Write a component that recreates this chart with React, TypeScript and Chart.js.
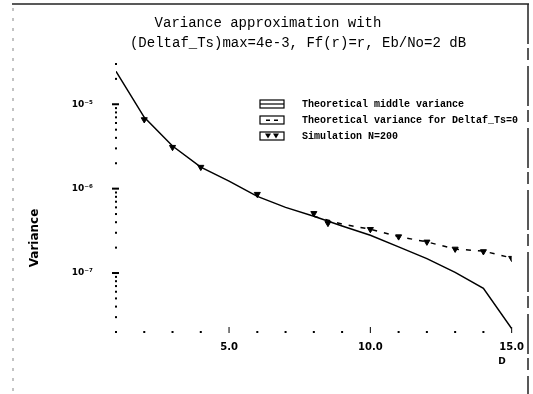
import React, { useEffect, useRef } from 'react';
import { Chart, registerables } from 'chart.js';
Chart.register(...registerables);

// ---- text ----
const titleLines = ['Variance approximation with', '(Deltaf_Ts)max=4e-3, Ff(r)=r, Eb/No=2 dB'];
const yAxisTitle = 'Variance';
const xAxisTitle = 'D';
const legendLabels = [
  'Theoretical middle variance',
  'Theoretical variance for Deltaf_Ts=0',
  'Simulation N=200',
];

// ---- axes ----
const xMin = 1;
const xMax = 15;
const xTickValues = [5, 10, 15];
const xTickLabels = ['5.0', '10.0', '15.0'];
const yMin = 2e-8;
const yMax = 3e-5;
const yTickValues = [1e-7, 1e-6, 1e-5];
const yTickLabels = ['10⁻⁷', '10⁻⁶', '10⁻⁵'];

// ---- data ----
const middleX = [1, 2, 3, 4, 5, 6, 7, 8, 9, 10, 11, 12, 13, 14, 15];
const middleY = [2.46e-5, 7.0e-6, 3.2e-6, 1.8e-6, 1.23e-6, 8.1e-7, 6.0e-7, 4.7e-7, 3.6e-7, 2.8e-7, 2.04e-7, 1.48e-7, 1.02e-7, 6.6e-8, 2.2e-8];
const zeroX = [8, 9, 10, 11, 12, 13, 14, 15];
const zeroY = [4.7e-7, 3.8e-7, 3.3e-7, 2.7e-7, 2.34e-7, 1.92e-7, 1.82e-7, 1.51e-7];
const simX = [2, 3, 4, 6, 8, 8.5, 10, 11, 12, 13, 14, 15];
const simY = [6.6e-6, 3.1e-6, 1.8e-6, 8.6e-7, 5.1e-7, 3.9e-7, 3.3e-7, 2.7e-7, 2.34e-7, 1.93e-7, 1.8e-7, 1.5e-7];

const pts = (xs: number[], ys: number[]) => xs.map((x, i) => ({ x, y: ys[i] }));

const decor = {
  id: 'decor',
  afterDraw(chart: any) {
    const { ctx, chartArea } = chart;
    const xs = chart.scales.x;
    const ys = chart.scales.y;
    ctx.save();
    ctx.fillStyle = '#000';
    ctx.strokeStyle = '#000';

    // frame (scanned page border)
    ctx.lineWidth = 1.5;
    ctx.strokeStyle = '#222';
    ctx.beginPath();
    ctx.moveTo(12, 4);
    ctx.lineTo(529, 4);
    ctx.stroke();
    ctx.setLineDash([40, 4, 12, 6]);
    ctx.beginPath();
    ctx.moveTo(528, 4);
    ctx.lineTo(528, 394);
    ctx.stroke();
    ctx.lineWidth = 1;
    ctx.strokeStyle = '#888';
    ctx.setLineDash([3, 7]);
    ctx.beginPath();
    ctx.moveTo(13, 8);
    ctx.lineTo(13, 394);
    ctx.stroke();
    ctx.setLineDash([]);
    ctx.strokeStyle = '#000';

    // title
    ctx.font = '14px "Liberation Mono", monospace';
    ctx.textAlign = 'center';
    ctx.textBaseline = 'middle';
    ctx.fillText(titleLines[0], 268, 23);
    ctx.fillText(titleLines[1], 298, 43);

    // y title
    ctx.save();
    ctx.translate(35, 238);
    ctx.rotate(-Math.PI / 2);
    ctx.font = 'bold 12px "DejaVu Sans", sans-serif';
    ctx.fillText(yAxisTitle, 0, 0);
    ctx.restore();

    // x title
    ctx.font = 'bold 9px "DejaVu Sans", sans-serif';
    ctx.fillText(xAxisTitle, 502, 362);

    // x tick marks
    const bottom = chartArea.bottom;
    for (let v = xMin; v <= xMax; v++) {
      const px = xs.getPixelForValue(v);
      if (v % 5 === 0) {
        ctx.lineWidth = 1;
        ctx.beginPath();
        ctx.moveTo(px, bottom - 5);
        ctx.lineTo(px, bottom + 1);
        ctx.stroke();
      } else {
        ctx.fillRect(px - 1, bottom - 1, 2, 2);
      }
    }
    // y tick marks
    const left = chartArea.left;
    for (let e = -8; e <= -5; e++) {
      for (let m = 1; m <= 9; m++) {
        const v = m * Math.pow(10, e);
        if (v < yMin * 0.999 || v > yMax * 1.001) continue;
        const py = ys.getPixelForValue(v);
        if (m === 1) {
          ctx.fillRect(left - 4, py - 1, 7, 2);
        } else {
          ctx.fillRect(left - 1, py - 1, 2, 2);
        }
      }
    }

    // legend
    const lx = 260;
    const lw = 24;
    const tx = 302;
    legendLabels.forEach((label, i) => {
      const cy = 104 + 16 * i;
      ctx.lineWidth = 1.2;
      ctx.strokeRect(lx, cy - 4, lw, 8);
      if (i === 0) {
        ctx.beginPath();
        ctx.moveTo(lx, cy);
        ctx.lineTo(lx + lw, cy);
        ctx.stroke();
      } else if (i === 1) {
        ctx.fillRect(lx + 6, cy - 0.5, 4, 1.5);
        ctx.fillRect(lx + 14, cy - 0.5, 4, 1.5);
      } else {
        for (const dx of [8, 16]) {
          ctx.beginPath();
          ctx.moveTo(lx + dx - 3, cy - 2.5);
          ctx.lineTo(lx + dx + 3, cy - 2.5);
          ctx.lineTo(lx + dx, cy + 2.5);
          ctx.closePath();
          ctx.fill();
        }
      }
      ctx.font = 'bold 10px "Liberation Mono", monospace';
      ctx.textAlign = 'left';
      ctx.textBaseline = 'middle';
      ctx.fillText(label, tx, cy);
    });
    ctx.restore();
  },
};

export default function App() {
  const ref = useRef<HTMLCanvasElement | null>(null);
  useEffect(() => {
    document.body.style.margin = '0';
    const canvas = ref.current!;
    const chart = new Chart(canvas, {
      type: 'line',
      data: {
        datasets: [
          {
            label: legendLabels[0],
            data: pts(middleX, middleY),
            borderColor: '#000',
            borderWidth: 1.5,
            pointRadius: 0,
            tension: 0,
          },
          {
            label: legendLabels[1],
            data: pts(zeroX, zeroY),
            borderColor: '#000',
            borderWidth: 1.5,
            borderDash: [5, 7],
            pointRadius: 0,
            tension: 0,
          },
          {
            label: legendLabels[2],
            data: pts(simX, simY),
            showLine: false,
            pointStyle: 'triangle',
            rotation: 180,
            pointRadius: 3.5,
            backgroundColor: '#000',
            borderColor: '#000',
            borderWidth: 1,
          },
        ],
      },
      options: {
        animation: false,
        responsive: false,
        devicePixelRatio: 1,
        layout: { padding: { top: 64, right: 17, left: 0, bottom: 0 } },
        plugins: {
          legend: { display: false },
          title: { display: false },
          tooltip: { enabled: false },
        },
        scales: {
          x: {
            type: 'linear',
            min: xMin,
            max: xMax,
            grid: { display: false, drawTicks: false },
            border: { display: false },
            afterBuildTicks: (s: any) => {
              s.ticks = xTickValues.map((value) => ({ value }));
            },
            afterFit: (s: any) => {
              s.height = 62;
            },
            ticks: {
              padding: 9,
              color: '#000',
              font: { family: '"DejaVu Sans", sans-serif', size: 10, weight: 'bold' },
              maxRotation: 0,
              autoSkip: false,
              callback: (_v: any, i: number) => xTickLabels[i],
            },
          },
          y: {
            type: 'logarithmic',
            min: yMin,
            max: yMax,
            grid: { display: false, drawTicks: false },
            border: { display: false },
            afterBuildTicks: (s: any) => {
              s.ticks = yTickValues.map((value) => ({ value }));
            },
            afterFit: (s: any) => {
              s.width = 116;
            },
            ticks: {
              padding: 23,
              color: '#000',
              font: { family: '"DejaVu Sans", sans-serif', size: 9, weight: 'bold' },
              autoSkip: false,
              callback: (_v: any, i: number) => yTickLabels[i],
            },
          },
        },
      },
      plugins: [decor],
    } as any);
    return () => chart.destroy();
  }, []);
  return (
    <div style={{ width: 533, height: 394 }}>
      <canvas ref={ref} width={533} height={394} style={{ width: 533, height: 394, display: 'block' }} />
    </div>
  );
}
